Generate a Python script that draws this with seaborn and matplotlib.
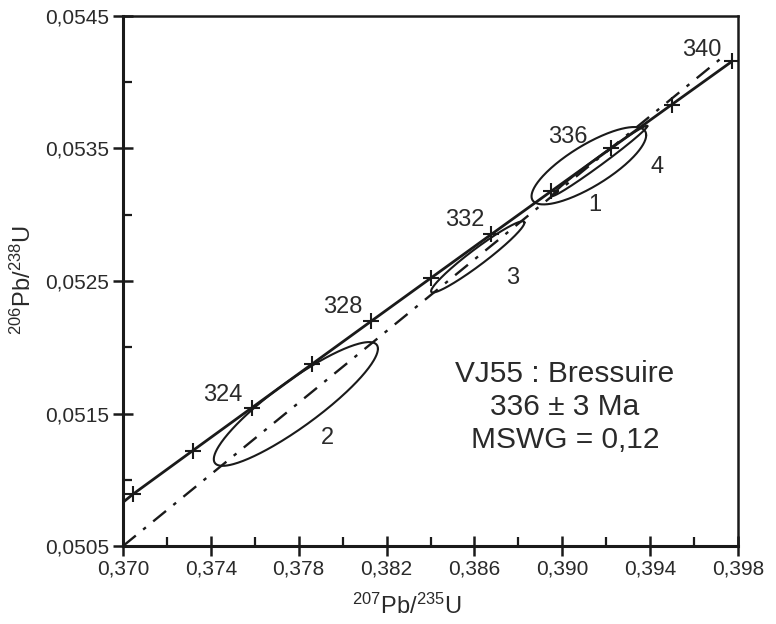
import numpy as np
import pandas as pd
import matplotlib
matplotlib.use("Agg")
import matplotlib.pyplot as plt
import seaborn as sns

# ---------------- data ----------------
# concordia age marks (Ma) and their ratios
ages = [320, 322, 324, 326, 328, 330, 332, 334, 336, 338, 340]
conc_x = [0.37047, 0.37317, 0.37588, 0.37859, 0.38131, 0.38403, 0.38676, 0.38950, 0.39224, 0.39498, 0.39773]
conc_y = [0.050893, 0.051219, 0.051545, 0.051871, 0.052198, 0.052524, 0.052851, 0.053178, 0.053504, 0.053831, 0.054158]
conc_start = (0.3700, 0.050830)
labelled_ages = [324, 328, 332, 336, 340]
age_label_x = [0.37455, 0.38001, 0.38556, 0.39025, 0.39635]
age_label_y = [0.05164, 0.05230, 0.05296, 0.05359, 0.05424]

# discordia line end points
disc_x = [0.3700, 0.3973]
disc_y = [0.0505, 0.05419]

# error ellipses: id, centre, half extents, correlation
ell_id = ["1", "2", "3", "4"]
ell_cx = [0.39121, 0.37787, 0.386153, 0.39171]
ell_cy = [0.05337, 0.051572, 0.052682, 0.053407]
ell_hx = [0.00261, 0.003736, 0.002126, 0.002165]
ell_hy = [0.000292, 0.000467, 0.000269, 0.000265]
ell_rho = [0.79, 0.892, 0.961, 0.990]
ell_lab_x = [0.39148, 0.37933, 0.38775, 0.39430]
ell_lab_y = [0.053075, 0.051315, 0.052523, 0.053362]

xticks = [0.370, 0.374, 0.378, 0.382, 0.386, 0.390, 0.394, 0.398]
yticks = [0.0505, 0.0515, 0.0525, 0.0535, 0.0545]
xminor = [0.372, 0.376, 0.380, 0.384, 0.388, 0.392, 0.396]
yminor = [0.0510, 0.0520, 0.0530, 0.0540]

info_lines = ["VJ55 : Bressuire", "336 \u00b1 3 Ma", "MSWG = 0,12"]

# ---------------- style ----------------
sns.set_style("white")
plt.rcParams["font.family"] = ["Liberation Sans", "DejaVu Sans"]
plt.rcParams["mathtext.default"] = "regular"
ink = "#1a1a1a"
txt = "#2a2a2a"

fig = plt.figure(figsize=(7.76, 6.24), dpi=100)
ax = fig.add_axes([123 / 776, 1 - 546 / 624, 615 / 776, 530 / 624])

# concordia
cdf = pd.DataFrame({"x": [conc_start[0]] + conc_x, "y": [conc_start[1]] + conc_y})
sns.lineplot(data=cdf, x="x", y="y", sort=False, estimator=None, color=ink,
             linewidth=2.0, ax=ax)
mdf = pd.DataFrame({"x": conc_x, "y": conc_y, "age": ages})
sns.scatterplot(data=mdf, x="x", y="y", marker="+", s=120, color=ink,
                linewidth=1.5, ax=ax, zorder=5)

# discordia
ddf = pd.DataFrame({"x": disc_x, "y": disc_y})
sns.lineplot(data=ddf, x="x", y="y", sort=False, estimator=None, color=ink,
             linewidth=1.7, ax=ax, dashes=False)
ax.lines[-1].set_dashes((7, 4, 1.5, 4))

# ellipses
t = np.linspace(0, 2 * np.pi, 300)
for cx, cy, hx, hy, r in zip(ell_cx, ell_cy, ell_hx, ell_hy, ell_rho):
    ex = cx + hx * np.cos(t)
    ey = cy + hy * (r * np.cos(t) + np.sqrt(1 - r * r) * np.sin(t))
    ax.plot(ex, ey, color=ink, linewidth=1.5)

# labels
for a, lx, ly in zip(labelled_ages, age_label_x, age_label_y):
    ax.text(lx, ly, str(a), ha="center", va="center", fontsize=17, color=txt)
for lab, lx, ly in zip(ell_id, ell_lab_x, ell_lab_y):
    ax.text(lx, ly, lab, ha="center", va="center", fontsize=17, color=txt)

ax.text(0.7187, 0.262, "\n".join(info_lines), transform=ax.transAxes,
        ha="center", va="center", multialignment="center", fontsize=21.5,
        linespacing=1.22, color=txt)

# axes
ax.set_xlim(0.370, 0.398)
ax.set_ylim(0.0505, 0.0545)
ax.set_xticks(xticks)
ax.set_xticklabels([f"{v:.3f}".replace(".", ",") for v in xticks])
ax.set_yticks(yticks)
ax.set_yticklabels([f"{v:.4f}".replace(".", ",") for v in yticks])
ax.set_xticks(xminor, minor=True)
ax.set_yticks(yminor, minor=True)
ax.tick_params(which="major", direction="inout", length=14, width=1.8,
               color=ink, labelsize=15, labelcolor=txt, pad=3,
               bottom=True, left=True, top=False, right=False)
ax.tick_params(which="minor", direction="in", length=6.5, width=1.6,
               color=ink, bottom=True, left=True, top=False, right=False)

for side, lw in [("left", 2.2), ("bottom", 2.2), ("top", 1.8), ("right", 1.8)]:
    ax.spines[side].set_visible(True)
    ax.spines[side].set_linewidth(lw)
    ax.spines[side].set_color(ink)

ax.set_xlabel("$^{207}$Pb/$^{235}$U", fontsize=17, color=txt)
ax.set_ylabel("$^{206}$Pb/$^{238}$U", fontsize=17, color=txt)
ax.xaxis.set_label_coords((407 - 123) / 615, -(594 - 546) / 530)
ax.yaxis.set_label_coords(-(123 - 36) / 615, (546 - 280) / 530)

fig.savefig("out.png", dpi=100)
